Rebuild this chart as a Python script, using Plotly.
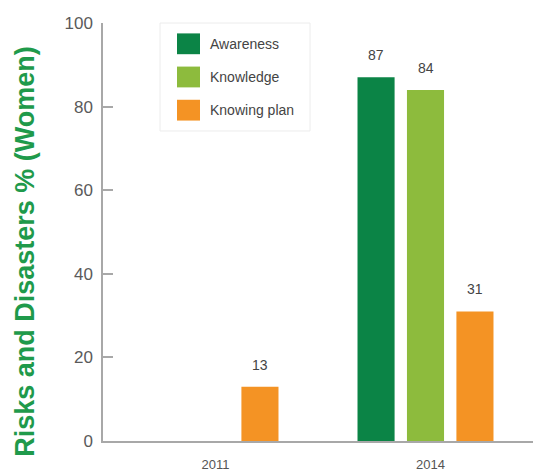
import plotly.graph_objects as go

# Survey results: share of women (%) by year
years = ["2011", "2014"]
series_names = ["Awareness", "Knowledge", "Knowing plan"]
awareness = [None, 87]
knowledge = [None, 84]
knowing_plan = [13, 31]
y_ticks = [0, 20, 40, 60, 80, 100]

series_values = [awareness, knowledge, knowing_plan]
series_colors = ["#0b8446", "#8dbb3d", "#f49324"]

W, H = 533, 472
M_L, M_R, M_T, M_B = 103, 0, 23, 27
BARGAP = 0.31
BARGROUPGAP = 0.25


def px_x(px):
    return (px - M_L) / (W - M_L - M_R)


def px_y(py):
    return (H - M_B - py) / (H - M_T - M_B)


fig = go.Figure()
for name, vals, color in zip(series_names, series_values, series_colors):
    fig.add_trace(go.Bar(
        x=years, y=vals, name=name,
        marker=dict(color=color, line=dict(width=0)),
        showlegend=False,
    ))

# value labels above each bar, placed at the bar's slot within its group
slot = (1 - BARGAP) / len(series_names)
annotations = []
for k, vals in enumerate(series_values):
    for i, v in enumerate(vals):
        if v is None:
            continue
        annotations.append(dict(
            x=i + (k - (len(series_names) - 1) / 2) * slot, y=v,
            xref="x", yref="y", text=str(v), showarrow=False,
            yshift=22, font=dict(family="Liberation Sans", size=14, color="#444444"),
        ))

# boxed legend with large swatches
box_x0, box_x1, box_y0, box_y1 = 160, 310, 23, 132
shapes = [dict(type="rect", xref="paper", yref="paper",
               x0=px_x(box_x0), x1=px_x(box_x1), y0=px_y(box_y1), y1=px_y(box_y0),
               line=dict(color="#ececec", width=1), fillcolor="white", layer="below")]
row_centers = [44, 77.5, 111]
for name, color, cy in zip(series_names, series_colors, row_centers):
    shapes.append(dict(type="rect", xref="paper", yref="paper",
                       x0=px_x(177), x1=px_x(200), y0=px_y(cy + 10.5), y1=px_y(cy - 10.5),
                       line=dict(width=0), fillcolor=color))
    annotations.append(dict(x=px_x(208), y=px_y(cy), xref="paper", yref="paper",
                            text=name, showarrow=False, xanchor="left", yanchor="middle",
                            font=dict(family="Liberation Sans", size=14, color="#444444")))

# y-axis title
annotations.append(dict(x=px_x(25), y=px_y(254), xref="paper", yref="paper",
                        text="<b>Risks and Disasters % (Women)</b>", showarrow=False,
                        textangle=-90, xanchor="center", yanchor="middle",
                        font=dict(family="Liberation Sans", size=27, color="#1f9a4b")))

fig.update_layout(
    width=W, height=H,
    margin=dict(l=M_L, r=M_R, t=M_T, b=M_B, pad=0),
    paper_bgcolor="white", plot_bgcolor="white",
    barmode="group", bargap=BARGAP, bargroupgap=BARGROUPGAP,
    shapes=shapes, annotations=annotations,
    showlegend=False,
    xaxis=dict(type="category", showgrid=False, zeroline=False,
               showline=True, linecolor="#a8a8a8", linewidth=1.5,
               ticks="", ticklabelstandoff=11, ticklabelshift=5,
               tickfont=dict(family="Liberation Sans", size=13, color="#555555")),
    yaxis=dict(range=[0, 100], tickvals=y_ticks, showgrid=False, zeroline=False,
               showline=True, linecolor="#a8a8a8", linewidth=1.5,
               ticks="inside", ticklen=10, tickcolor="#a8a8a8", tickwidth=1.5,
               ticklabelstandoff=5,
               tickfont=dict(family="Liberation Sans", size=17, color="#5a5a5a")),
)

fig.write_html("out.html")
